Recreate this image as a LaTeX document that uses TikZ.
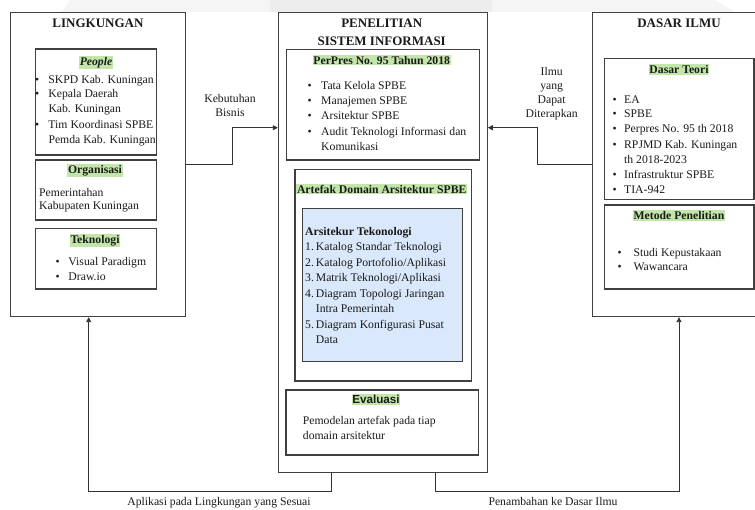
\documentclass[tikz,border=0pt]{standalone}
\usepackage{fontspec}
\setmainfont{Liberation Serif}
\setsansfont{Liberation Sans}
\usetikzlibrary{arrows.meta}
\definecolor{hlg}{HTML}{C2E5A9}
\definecolor{bluef}{HTML}{DAE8FC}
\definecolor{bord}{HTML}{404040}
\definecolor{txtc}{HTML}{1A1A1A}
\newcommand\fs{\fontsize{11.7}{14}\selectfont}
\newcommand\bul[2]{\makebox[#1pt][l]{•}#2}
\newcommand\num[2]{\makebox[10.7pt][l]{#1}#2}
\begin{document}
\begin{tikzpicture}[x=1pt,y=-1pt,
 outer/.style={draw=black!75, line width=0.9pt, inner sep=0, rectangle},
 inbox/.style={draw=bord, line width=1.1pt, inner sep=0, rectangle},
 txt/.style={anchor=base west, inner sep=0, font=\fs, text=txtc},
 ctxt/.style={anchor=base, inner sep=0, font=\fs, text=txtc},
 head/.style={anchor=base, inner sep=0, font=\fontsize{13}{15}\selectfont\bfseries, text=txtc},
 hl/.style={anchor=base, fill=hlg, inner xsep=0.6pt, inner ysep=1.2pt, font=\fs\bfseries, text=txtc},
 arr/.style={draw=black!80, line width=0.9pt, -{Triangle[length=5pt,width=5pt]}}]
\useasboundingbox (0,0) rectangle (755,509);
% faint watermark band at the top
\fill[gray!8] (70,0) -- (715,0) -- (735,12) -- (62,12) -- cycle;
\fill[gray!14] (270,0) rectangle (492,12);

% ---------- outer boxes
\node[outer, minimum width=175pt, minimum height=304.7pt] (L) at (98.2,164.35) {};
\node[outer, minimum width=209pt, minimum height=460pt] (M) at (382.8,242.3) {};
\node[outer, minimum width=167.7pt, minimum height=304.4pt] (R) at (676.15,164.5) {};

% ---------- LINGKUNGAN
\node[head] (lhead) at (98,27) {LINGKUNGAN};
\node[inbox, minimum width=121pt, minimum height=106pt] (people) at (96.2,102) {};
\node[hl, font=\fs\bfseries\itshape] (phl) at (96,65) {People};
\node[txt] (p1) at (35,83) {\bul{13.3}{SKPD Kab. Kuningan}};
\node[txt] (p2) at (35,97) {\bul{13.3}{Kepala Daerah}};
\node[txt] (p3) at (48.3,112.7) {Kab. Kuningan};
\node[txt] (p4) at (35,128) {\bul{13.3}{Tim Koordinasi SPBE}};
\node[txt] (p5) at (48.3,143.3) {Pemda Kab. Kuningan};

\node[inbox, minimum width=121pt, minimum height=60pt] (org) at (96.2,190) {};
\node[hl] (ohl) at (95,173.3) {Organisasi};
\node[txt] (o1) at (39,196.3) {Pemerintahan};
\node[txt] (o2) at (39,209) {Kabupaten Kuningan};

\node[inbox, minimum width=121pt, minimum height=60.3pt] (tek) at (96.2,258.85) {};
\node[hl] (thl) at (95,243.3) {Teknologi};
\node[txt] (t1) at (55.3,265.7) {\bul{13}{Visual Paradigm}};
\node[txt] (t2) at (55.3,280.7) {\bul{13}{Draw.io}};

% ---------- PENELITIAN
\node[head] (mh1) at (381.7,27.6) {PENELITIAN};
\node[head] (mh2) at (381.7,45) {SISTEM INFORMASI};
\node[inbox, minimum width=192.6pt, minimum height=110.7pt] (perpres) at (383,104.65) {};
\node[hl] (pphl) at (381.7,64) {PerPres No. 95 Tahun 2018};
\node[txt] (pp1) at (307.3,89) {\bul{13.7}{Tata Kelola SPBE}};
\node[txt] (pp2) at (307.3,104) {\bul{13.7}{Manajemen SPBE}};
\node[txt] (pp3) at (307.3,119.7) {\bul{13.7}{Arsitektur SPBE}};
\node[txt] (pp4) at (307.3,135.7) {\bul{13.7}{Audit Teknologi Informasi dan}};
\node[txt] (pp5) at (321,150.7) {Komunikasi};

\node[inbox, minimum width=176.7pt, minimum height=211.7pt] (artefak) at (383.35,275.15) {};
\node[hl] (afhl) at (381.7,193) {Artefak Domain Arsitektur SPBE};
\node[draw=bord, line width=1pt, fill=bluef, inner sep=0, minimum width=159.6pt, minimum height=153.4pt] (tekno) at (382.5,285) {};
\node[txt, font=\fs\bfseries] (ath) at (305,235.7) {Arsitekur Tekonologi};
\node[txt] (at1) at (305,250.7) {\num{1.}{Katalog Standar Teknologi}};
\node[txt] (at2) at (305,266.2) {\num{2.}{Katalog Portofolio/Aplikasi}};
\node[txt] (at3) at (305,281.7) {\num{3.}{Matrik Teknologi/Aplikasi}};
\node[txt] (at4) at (305,297.2) {\num{4.}{Diagram Topologi Jaringan}};
\node[txt] (at5) at (315.7,312.7) {Intra Pemerintah};
\node[txt] (at6) at (305,328.2) {\num{5.}{Diagram Konfigurasi Pusat}};
\node[txt] (at7) at (315.7,343.7) {Data};

\node[inbox, minimum width=192.7pt, minimum height=65pt] (eval) at (382.35,422.5) {};
\node[hl, font=\sffamily\fs\bfseries] (evhl) at (376,403.3) {Evaluasi};
\node[txt] (ev1) at (302.7,424.7) {Pemodelan artefak pada tiap};
\node[txt] (ev2) at (302.7,439) {domain arsitektur};

% ---------- DASAR ILMU
\node[head] (rhead) at (679,27) {DASAR ILMU};
\node[inbox, minimum width=149.7pt, minimum height=141pt] (teori) at (679.15,128.8) {};
\node[hl] (dthl) at (679,73.3) {Dasar Teori};
\node[txt] (dt1) at (612.3,103) {\bul{11.7}{EA}};
\node[txt] (dt2) at (612.3,117.3) {\bul{11.7}{SPBE}};
\node[txt] (dt3) at (612.3,132.3) {\bul{11.7}{Perpres No. 95 th 2018}};
\node[txt] (dt4) at (612.3,148) {\bul{11.7}{RPJMD Kab. Kuningan}};
\node[txt] (dt5) at (624,163) {th 2018-2023};
\node[txt] (dt6) at (612.3,178) {\bul{11.7}{Infrastruktur SPBE}};
\node[txt] (dt7) at (612.3,193) {\bul{11.7}{TIA-942}};

\node[inbox, minimum width=149.7pt, minimum height=84pt] (metode) at (679.15,247) {};
\node[hl] (mphl) at (679,219.7) {Metode Penelitian};
\node[txt] (mp1) at (617.3,256.3) {\bul{16}{Studi Kepustakaan}};
\node[txt] (mp2) at (617.3,270.7) {\bul{16}{Wawancara}};

% ---------- connectors
\coordinate (k1) at (232,127.7);
\draw[arr] (L.east) -| (k1) -- (k1 -| M.west);
\node[ctxt] (kb1) at (230,102.5) {Kebutuhan};
\node[ctxt] (kb2) at (230,116.5) {Bisnis};

\coordinate (i1) at (537.7,127.7);
\draw[arr] (R.west) -| (i1) -- (i1 -| M.east);
\node[ctxt] (il1) at (551.7,75) {Ilmu};
\node[ctxt] (il2) at (551.7,89) {yang};
\node[ctxt] (il3) at (551.7,103) {Dapat};
\node[ctxt] (il4) at (551.7,117) {Diterapkan};

\coordinate (lb) at (331,491);
\coordinate (la) at (88.7,491);
\draw[arr] (lb |- M.south) -- (lb) -- (la) -- (la |- L.south);
\coordinate (rb) at (435,491);
\coordinate (ra) at (679,491);
\draw[arr] (rb |- M.south) -- (rb) -- (ra) -- (ra |- R.south);
\node[ctxt] (lab1) at (219,505.5) {Aplikasi pada Lingkungan yang Sesuai};
\node[ctxt] (lab2) at (553,505.5) {Penambahan ke Dasar Ilmu};
\end{tikzpicture}
\end{document}
